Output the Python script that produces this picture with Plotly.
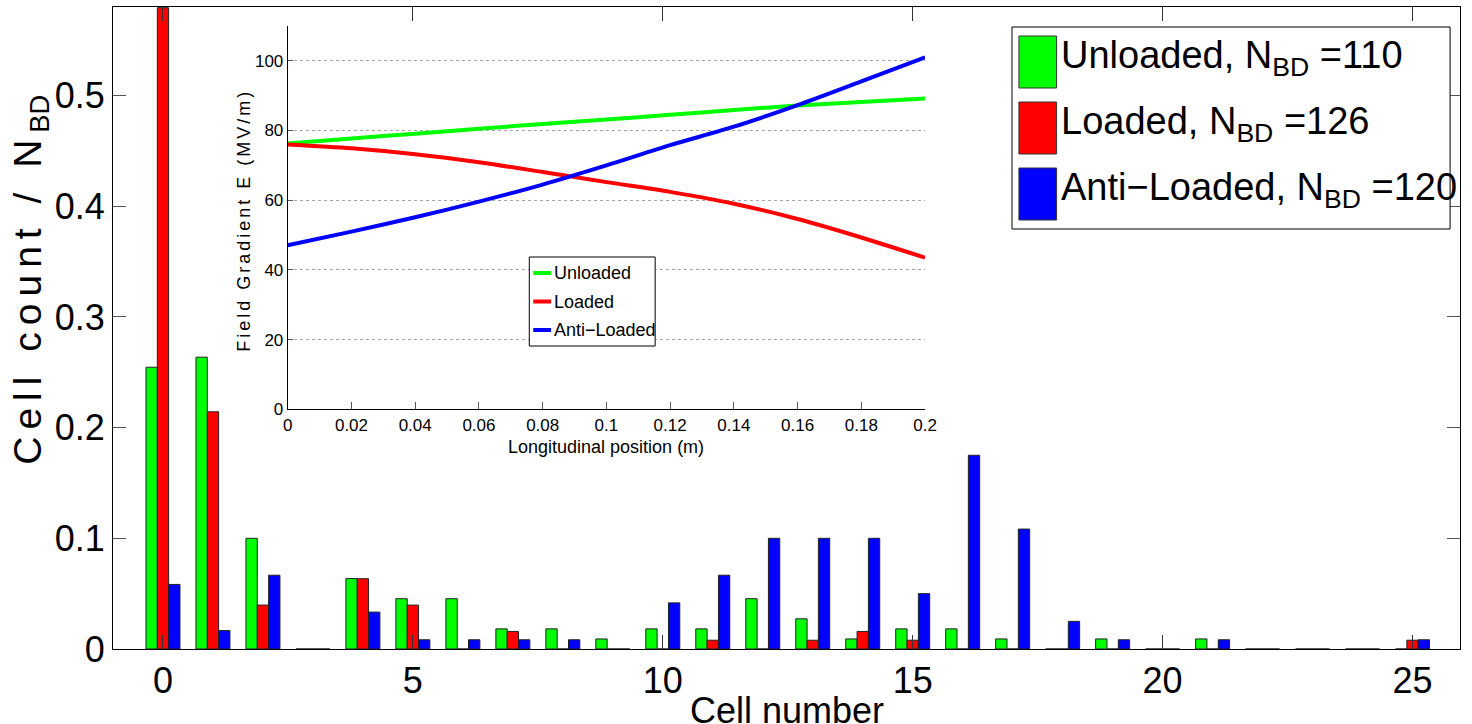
import plotly.graph_objects as go

# ---- breakdown-location histogram: counts per cell for each structure ----
cells = list(range(26))
unloaded_counts = [28, 29, 11, 0, 7, 5, 5, 2, 2, 1, 2, 2, 5, 3, 1, 2, 2, 1, 0, 1, 0, 1, 0, 0, 0, 0]
loaded_counts = [73, 27, 5, 0, 8, 5, 0, 2, 0, 0, 0, 1, 0, 1, 2, 1, 0, 0, 0, 0, 0, 0, 0, 0, 0, 1]
anti_counts = [7, 2, 8, 0, 4, 1, 1, 1, 1, 0, 5, 8, 12, 12, 12, 6, 21, 13, 3, 1, 0, 1, 0, 0, 0, 1]
n_bd_unloaded = 110
n_bd_loaded = 126
n_bd_anti = 120

# ---- field gradient profile along the structure ----
pos_m = [0.0, 0.02, 0.04, 0.06, 0.08, 0.10, 0.12, 0.14, 0.16, 0.18, 0.20]
e_unloaded = [76.3, 77.7, 79.1, 80.5, 81.9, 83.2, 84.5, 85.9, 87.2, 88.2, 89.2]
e_loaded = [76.0, 74.9, 73.2, 70.9, 68.1, 65.2, 62.4, 59.0, 54.6, 49.3, 43.5]
e_anti = [47.1, 51.0, 55.1, 59.6, 64.5, 70.0, 75.8, 81.1, 87.3, 94.1, 101.0]

x_ticks = [0, 5, 10, 15, 20, 25]
y_ticks = [0, 0.1, 0.2, 0.3, 0.4, 0.5]
y_ticktext = ["0", "0.1", "0.2", "0.3", "0.4", "0.5"]
inset_x_ticks = [0, 0.02, 0.04, 0.06, 0.08, 0.1, 0.12, 0.14, 0.16, 0.18, 0.2]
inset_x_text = ["0", "0.02", "0.04", "0.06", "0.08", "0.1", "0.12", "0.14", "0.16", "0.18", "0.2"]
inset_y_ticks = [0, 20, 40, 60, 80, 100]

GREEN, RED, BLUE = "#00ff00", "#ff0000", "#0000ff"
FONT = "Liberation Sans, Arial, Helvetica, sans-serif"

W, H = 1472, 724
ML, MR, MT, MB = 113, 0, 7, 75


def px(x):
    """horizontal pixel -> paper fraction"""
    return (x - ML) / (W - ML - MR)


def py(y):
    """vertical pixel (from top) -> paper fraction"""
    return (H - MB - y) / (H - MT - MB)


fig = go.Figure()

series = [
    ("Unloaded", unloaded_counts, n_bd_unloaded, GREEN),
    ("Loaded", loaded_counts, n_bd_loaded, RED),
    ("Anti-Loaded", anti_counts, n_bd_anti, BLUE),
]
for name, counts, n_bd, color in series:
    fig.add_trace(go.Bar(
        x=cells, y=[c / n_bd for c in counts], name=name,
        marker=dict(color=color, line=dict(color="#222222", width=1)),
        showlegend=False, xaxis="x", yaxis="y",
    ))

for name, vals, color in [("Unloaded", e_unloaded, GREEN),
                          ("Loaded", e_loaded, RED),
                          ("Anti-Loaded", e_anti, BLUE)]:
    fig.add_trace(go.Scatter(
        x=pos_m, y=vals, mode="lines", name=name,
        line=dict(color=color, width=4, shape="spline", smoothing=0.8),
        showlegend=False, xaxis="x2", yaxis="y2",
    ))

shapes = []
annotations = []

# main legend box with large colour swatches
shapes.append(dict(type="rect", xref="paper", yref="paper",
                   x0=px(1020), x1=px(1462), y0=py(229), y1=py(27),
                   line=dict(color="black", width=1), fillcolor="white"))
legend_rows = [
    (f"Unloaded, N<sub>BD</sub> ={n_bd_unloaded}", GREEN, 36),
    (f"Loaded, N<sub>BD</sub> ={n_bd_loaded}", RED, 102),
    (f"Anti\u2212Loaded, N<sub>BD</sub> ={n_bd_anti}", BLUE, 168),
]
for text, color, top in legend_rows:
    shapes.append(dict(type="rect", xref="paper", yref="paper",
                       x0=px(1027), x1=px(1065), y0=py(top + 52), y1=py(top),
                       line=dict(color="#333333", width=1), fillcolor=color))
    annotations.append(dict(text=text, xref="paper", yref="paper",
                            x=px(1067), y=py(top + 22), xanchor="left", yanchor="middle",
                            showarrow=False, font=dict(family=FONT, size=38, color="black")))

# inset legend
shapes.append(dict(type="rect", xref="paper", yref="paper",
                   x0=px(533), x1=px(660), y0=py(346), y1=py(257),
                   line=dict(color="black", width=1), fillcolor="white"))
for text, color, yc in [("Unloaded", GREEN, 273), ("Loaded", RED, 301.5),
                        ("Anti\u2212Loaded", BLUE, 330)]:
    shapes.append(dict(type="line", xref="paper", yref="paper",
                       x0=px(537), x1=px(555), y0=py(yc), y1=py(yc),
                       line=dict(color=color, width=4)))
    annotations.append(dict(text=text, xref="paper", yref="paper",
                            x=px(556), y=py(yc), xanchor="left", yanchor="middle",
                            showarrow=False, font=dict(family=FONT, size=18, color="black")))

# axis titles
annotations.append(dict(text="Cell number", xref="paper", yref="paper",
                        x=px(793), y=py(710), xanchor="center", yanchor="middle",
                        showarrow=False, font=dict(family=FONT, size=36, color="black")))
annotations.append(dict(text="<span style='letter-spacing:7px'>Cell count / N</span><sub>BD</sub>",
                        xref="paper", yref="paper",
                        x=px(29), y=py(280), xanchor="center", yanchor="middle", textangle=-90,
                        showarrow=False, font=dict(family=FONT, size=39, color="black")))
annotations.append(dict(text="Longitudinal position (m)", xref="paper", yref="paper",
                        x=px(610), y=py(447), xanchor="center", yanchor="middle",
                        showarrow=False, font=dict(family=FONT, size=18, color="black")))
annotations.append(dict(text="<span style='letter-spacing:3px'>Field Gradient E (MV/m)</span>",
                        xref="paper", yref="paper",
                        x=px(245), y=py(220), xanchor="center", yanchor="middle", textangle=-90,
                        showarrow=False, font=dict(family=FONT, size=18, color="black")))

fig.update_layout(
    width=W, height=H,
    margin=dict(l=ML, r=MR, t=MT, b=MB, pad=0),
    paper_bgcolor="white", plot_bgcolor="white",
    barmode="group", bargap=0.32, bargroupgap=0.0,
    font=dict(family=FONT, color="black"),
    xaxis=dict(domain=[0, 1], range=[-1, 25.95], tickvals=x_ticks,
               ticks="inside", ticklen=14, tickcolor="#333333",
               showline=True, linecolor="black", linewidth=1, mirror="ticks",
               showgrid=False, zeroline=False,
               tickfont=dict(family=FONT, size=36, color="black")),
    yaxis=dict(domain=[0, 1], range=[0, 0.58], tickvals=y_ticks, ticktext=y_ticktext,
               ticks="inside", ticklen=13, tickcolor="#555555",
               showline=True, linecolor="black", linewidth=1, mirror="ticks",
               showgrid=False, zeroline=False,
               tickfont=dict(family=FONT, size=36, color="black")),
    xaxis2=dict(domain=[px(289.3), px(932.3)], anchor="y2", range=[0, 0.2],
                tickvals=inset_x_ticks, ticktext=inset_x_text,
                ticks="inside", ticklen=7, tickcolor="#555555",
                showline=True, linecolor="black", linewidth=1, mirror=False,
                showgrid=False, zeroline=False,
                tickfont=dict(family=FONT, size=17, color="black")),
    yaxis2=dict(domain=[py(409.3), py(26)], anchor="x2", range=[0, 110],
                tickvals=inset_y_ticks,
                ticks="inside", ticklen=5, tickcolor="#555555",
                showline=True, linecolor="black", linewidth=1, mirror=False,
                showgrid=True, gridcolor="#a8a8a8", griddash="dot", gridwidth=1,
                zeroline=False,
                tickfont=dict(family=FONT, size=17, color="black")),
    shapes=shapes,
    annotations=annotations,
)

fig.write_html("out.html")
